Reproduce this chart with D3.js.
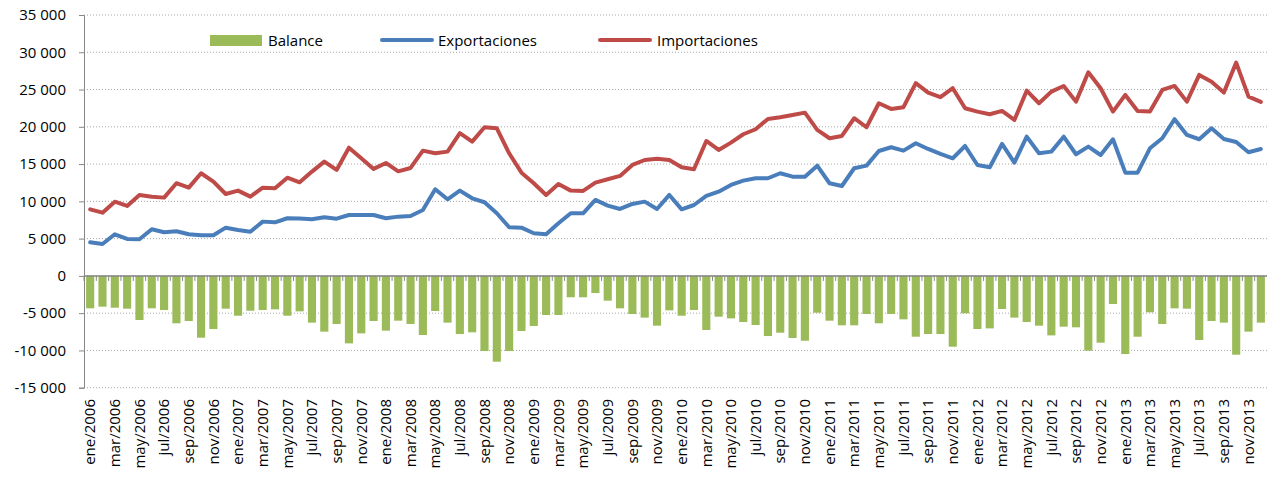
<!DOCTYPE html>
<html>
<head>
<meta charset="utf-8">
<script src="https://cdn.jsdelivr.net/npm/d3@7"></script>
<style>
  body { margin: 0; background: #fff; }
  svg { display: block; font-family: "Open Sans", sans-serif; }
</style>
</head>
<body>
<div id="chart"></div>
<script>
// Monthly categories, ene/2006 .. dic/2013
const categories = [
  "ene/2006","feb/2006","mar/2006","abr/2006","may/2006","jun/2006","jul/2006","ago/2006","sep/2006","oct/2006","nov/2006","dic/2006",
  "ene/2007","feb/2007","mar/2007","abr/2007","may/2007","jun/2007","jul/2007","ago/2007","sep/2007","oct/2007","nov/2007","dic/2007",
  "ene/2008","feb/2008","mar/2008","abr/2008","may/2008","jun/2008","jul/2008","ago/2008","sep/2008","oct/2008","nov/2008","dic/2008",
  "ene/2009","feb/2009","mar/2009","abr/2009","may/2009","jun/2009","jul/2009","ago/2009","sep/2009","oct/2009","nov/2009","dic/2009",
  "ene/2010","feb/2010","mar/2010","abr/2010","may/2010","jun/2010","jul/2010","ago/2010","sep/2010","oct/2010","nov/2010","dic/2010",
  "ene/2011","feb/2011","mar/2011","abr/2011","may/2011","jun/2011","jul/2011","ago/2011","sep/2011","oct/2011","nov/2011","dic/2011",
  "ene/2012","feb/2012","mar/2012","abr/2012","may/2012","jun/2012","jul/2012","ago/2012","sep/2012","oct/2012","nov/2012","dic/2012",
  "ene/2013","feb/2013","mar/2013","abr/2013","may/2013","jun/2013","jul/2013","ago/2013","sep/2013","oct/2013","nov/2013","dic/2013"
];

const exportaciones = [
  4510, 4280, 5580, 4950, 4910, 6250, 5850, 5980, 5580, 5450, 5450, 6470,
  6160, 5930, 7280, 7190, 7730, 7700, 7600, 7870, 7680, 8170, 8170, 8170,
  7730, 7950, 8040, 8840, 11620, 10280, 11440, 10410, 9880, 8400, 6520, 6470,
  5720, 5580, 7060, 8400, 8400, 10190, 9420, 8980, 9650, 9960, 8980, 10860,
  8930, 9510, 10720, 11300, 12200, 12780, 13100, 13100, 13770, 13310, 13310, 14790,
  12430, 12060, 14440, 14790, 16760, 17260, 16800, 17800, 17030, 16360, 15780, 17430,
  14880, 14570, 17700, 15200, 18680, 16450, 16670, 18680, 16320, 17340, 16220, 18330,
  13850, 13850, 17120, 18470, 21020, 18910, 18330, 19800, 18370, 17970, 16590, 17030
];

const importaciones = [
  8930, 8480, 9960, 9380, 10860, 10630, 10500, 12430, 11840, 13770, 12650, 10990,
  11440, 10630, 11840, 11750, 13180, 12560, 13990, 15330, 14210, 17200, 15780, 14350,
  15150, 14030, 14480, 16800, 16450, 16670, 19140, 18010, 19940, 19800, 16450, 13850,
  12430, 10860, 12330, 11440, 11400, 12510, 12960, 13410, 14880, 15550, 15730, 15550,
  14570, 14310, 18100, 16900, 17880, 19000, 19670, 21060, 21280, 21590, 21900, 19580,
  18470, 18770, 21150, 19940, 23160, 22400, 22630, 25850, 24590, 23970, 25180, 22490,
  22040, 21690, 22130, 20920, 24850, 23160, 24720, 25480, 23380, 27320, 25180, 22040,
  24280, 22130, 22040, 24950, 25480, 23380, 26960, 26060, 24590, 28610, 24050, 23340
];

const balance = [
  -4350, -4130, -4270, -4400, -5920, -4350, -4580, -6360, -6050, -8290, -7130, -4400,
  -5340, -4670, -4580, -4490, -5340, -4760, -6270, -7480, -6450, -9050, -7710, -6050,
  -7350, -6010, -6450, -7930, -4710, -6270, -7800, -7570, -10080, -11510, -10080, -7390,
  -6720, -5250, -5250, -2870, -2870, -2300, -3320, -4350, -5110, -5600, -6680, -4620,
  -5340, -4580, -7260, -5470, -5700, -6190, -6590, -8070, -7620, -8330, -8700, -4940,
  -6010, -6630, -6630, -5110, -6360, -5110, -5830, -8160, -7800, -7800, -9500, -5020,
  -7130, -7040, -4440, -5600, -6190, -6680, -7980, -6810, -6900, -10030, -8960, -3770,
  -10480, -8160, -4890, -6450, -4350, -4400, -8600, -6050, -6270, -10570, -7480, -6270
];

const yTicks = [-15000, -10000, -5000, 0, 5000, 10000, 15000, 20000, 25000, 30000, 35000];

const W = 1267, H = 477;
const plot = { left: 84, right: 1267, top: 15, bottom: 387.7 };

const svg = d3.select("#chart").append("svg")
    .attr("width", W)
    .attr("height", H);

const x = d3.scaleBand()
    .domain(categories)
    .range([plot.left, plot.right])
    .paddingInner(0.34)
    .paddingOuter(0.17);

const y = d3.scaleLinear()
    .domain([-15000, 35000])
    .range([plot.bottom, plot.top]);

const locale = d3.formatLocale({ decimal: ",", thousands: " ", grouping: [3], currency: ["", ""], minus: "-" });
const fmt = locale.format(",d");

const axisColor = "#868686";

// gridlines
svg.append("g")
    .selectAll("line")
    .data(yTicks)
    .enter().append("line")
    .attr("x1", plot.left)
    .attr("x2", plot.right)
    .attr("y1", d => y(d))
    .attr("y2", d => y(d))
    .attr("stroke", "#a6a6a6")
    .attr("stroke-width", 1)
    .attr("stroke-dasharray", "1,2");

// bars
svg.append("g")
    .selectAll("rect")
    .data(balance)
    .enter().append("rect")
    .attr("x", (d, i) => x(categories[i]))
    .attr("width", x.bandwidth())
    .attr("y", d => y(Math.max(0, d)))
    .attr("height", d => Math.abs(y(d) - y(0)))
    .attr("fill", "#9bbb59");

// y axis
const yAxis = d3.axisLeft(y)
    .tickValues(yTicks)
    .tickSize(5)
    .tickPadding(13)
    .tickFormat(fmt);

const gy = svg.append("g")
    .attr("transform", "translate(" + plot.left + ",0)")
    .call(yAxis);
gy.select(".domain").attr("stroke", axisColor);
gy.selectAll(".tick line").attr("stroke", axisColor);
gy.selectAll(".tick text")
    .attr("fill", "#000")
    .style("font-size", "15px")
    .style("font-family", "Open Sans, sans-serif");

// zero line with category ticks below
const bounds = categories.map(c => x(c) - x.step() * x.paddingInner() / 2);
svg.append("g")
    .selectAll("line")
    .data(bounds)
    .enter().append("line")
    .attr("x1", d => d)
    .attr("x2", d => d)
    .attr("y1", y(0))
    .attr("y2", y(0) + 5)
    .attr("stroke", axisColor);

svg.append("line")
    .attr("x1", plot.left)
    .attr("x2", plot.right)
    .attr("y1", y(0))
    .attr("y2", y(0))
    .attr("stroke", axisColor)
    .attr("stroke-width", 1.5);

// lines
const line = d3.line()
    .x((d, i) => x(categories[i]) + x.bandwidth() / 2)
    .y(d => y(d));

svg.append("path")
    .datum(exportaciones)
    .attr("d", line)
    .attr("fill", "none")
    .attr("stroke", "#4a7ebb")
    .attr("stroke-width", 4)
    .attr("stroke-linejoin", "round")
    .attr("stroke-linecap", "round");

svg.append("path")
    .datum(importaciones)
    .attr("d", line)
    .attr("fill", "none")
    .attr("stroke", "#be4b48")
    .attr("stroke-width", 4)
    .attr("stroke-linejoin", "round")
    .attr("stroke-linecap", "round");

// x labels, every second month
svg.append("g")
    .selectAll("text")
    .data(categories.filter((c, i) => i % 2 === 0))
    .enter().append("text")
    .attr("transform", d => "translate(" + (x(d) + x.bandwidth() / 2) + ",399) rotate(-90)")
    .attr("dy", "0.35em")
    .attr("text-anchor", "end")
    .style("font-size", "15px")
    .attr("fill", "#000")
    .text(d => d);

// legend
const legend = svg.append("g").style("font-size", "15px");
legend.append("rect")
    .attr("x", 210).attr("y", 35).attr("width", 52).attr("height", 11)
    .attr("fill", "#9bbb59");
legend.append("text").attr("x", 268).attr("y", 40.5).attr("dy", "0.35em").text("Balance");

legend.append("line")
    .attr("x1", 382).attr("x2", 432).attr("y1", 40).attr("y2", 40)
    .attr("stroke", "#4a7ebb").attr("stroke-width", 4).attr("stroke-linecap", "round");
legend.append("text").attr("x", 438).attr("y", 40.5).attr("dy", "0.35em").text("Exportaciones");

legend.append("line")
    .attr("x1", 600).attr("x2", 650).attr("y1", 40).attr("y2", 40)
    .attr("stroke", "#be4b48").attr("stroke-width", 4).attr("stroke-linecap", "round");
legend.append("text").attr("x", 657).attr("y", 40.5).attr("dy", "0.35em").text("Importaciones");
</script>
</body>
</html>
